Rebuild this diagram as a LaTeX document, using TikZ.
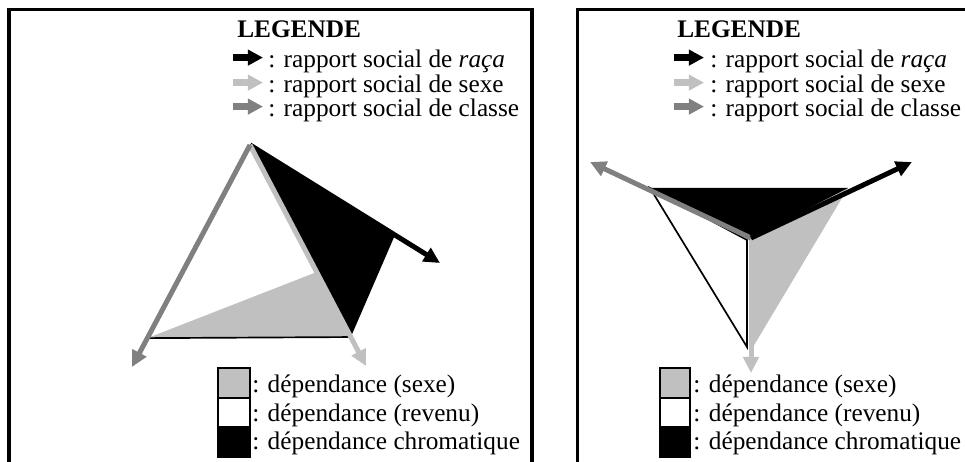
\documentclass[tikz,border=0pt]{standalone}
\usepackage{fontspec}
\setmainfont{Liberation Serif}
\usetikzlibrary{arrows.meta,calc}
\definecolor{sexgray}{HTML}{C0C0C0}
\definecolor{classgray}{HTML}{808080}

\begin{document}
\begin{tikzpicture}[
        every node/.style={font=\fontsize{18}{22}\selectfont, inner sep=0pt, anchor=base west},
        frame/.style={line width=2.5pt},
        rel/.style={line width=0.125cm, -{Triangle[length=0.4cm, width=0.38cm]}},
        keyarrow/.style={line width=0.17cm, -{Triangle[length=0.38cm, width=0.38cm]}},
        raca/.style={rel, black},
        sexe/.style={rel, sexgray},
        classe/.style={rel, classgray},
        keybox/.style={draw, line width=1.2pt},
        thinline/.style={line width=1.2pt}
    ]
    \useasboundingbox (0,0) rectangle (24.125,11.55);

    % =====================================================
    % Frames
    % =====================================================
    \draw[frame] (0.225,0) -- (0.225,11.3125) -- (13.3,11.3125) -- (13.3,0);
    \draw[frame] (14.4375,0) -- (14.4375,11.3125) -- (24.4,11.3125);

    % =====================================================
    % Left: legend
    % =====================================================
    \node[font=\bfseries\fontsize{18}{22}\selectfont] (L-title) at (5.925,10.6) {LEGENDE};

    \draw[keyarrow, black] (5.825,10.11) -- (6.575,10.11);
    \draw[keyarrow, sexgray] (5.825,9.485) -- (6.575,9.485);
    \draw[keyarrow, classgray] (5.825,8.885) -- (6.575,8.885);

    \node (L-raca) at (6.7,9.85) {: rapport social de \textit{raça}};
    \node (L-sexe) at (6.7,9.225) {: rapport social de sexe};
    \node (L-classe) at (6.7,8.625) {: rapport social de classe};

    % =====================================================
    % Left: dependency triangle
    % =====================================================
    \coordinate (L-A) at (6.25,7.925);
    \coordinate (L-C) at (3.3,2.375);
    \coordinate (L-S) at (9.15,2.4);
    \coordinate (L-R) at (11.0,4.975);

    \coordinate (L-c) at ($(L-A)!0.87!(L-C)$);
    \coordinate (L-m) at ($(L-A)!0.575!(L-S)$);
    \coordinate (L-s) at ($(L-A)!0.869!(L-S)$);
    \coordinate (L-r) at ($(L-A)!0.763!(L-R)$);

    % Areas
    \fill[white] (L-A) -- (L-c) -- (L-m) -- cycle;
    \fill[sexgray] (L-c) -- (L-m) -- (L-s) -- cycle;
    \fill[black] (L-A) -- (L-r) -- (L-s) -- cycle;
    \draw[thinline] (L-c) -- (L-s);

    % Social relations
    \draw[raca] (L-A) -- (L-R);
    \draw[sexe] (L-A) -- (L-S);
    \draw[classe] (L-A) -- (L-C);

    % Key of the areas
    \draw[keybox, fill=sexgray] (5.45,1.6083) rectangle (6.25,2.35);
    \draw[keybox, fill=white] (5.45,0.8667) rectangle (6.25,1.6083);
    \draw[keybox, fill=black] (5.45,0.125) rectangle (6.25,0.8667);

    \node (L-dsexe) at (6.3,1.725) {: dépendance (sexe)};
    \node (L-drevenu) at (6.3,1.0) {: dépendance (revenu)};
    \node (L-dchrom) at (6.3,0.3) {: dépendance chromatique};

    % =====================================================
    % Right: legend
    % =====================================================
    \node[font=\bfseries\fontsize{18}{22}\selectfont] (R-title) at (16.925,10.6) {LEGENDE};

    \draw[keyarrow, black] (16.85,10.11) -- (17.6,10.11);
    \draw[keyarrow, sexgray] (16.85,9.485) -- (17.6,9.485);
    \draw[keyarrow, classgray] (16.85,8.885) -- (17.6,8.885);

    \node (R-raca) at (17.75,9.85) {: rapport social de \textit{raça}};
    \node (R-sexe) at (17.75,9.225) {: rapport social de sexe};
    \node (R-classe) at (17.75,8.625) {: rapport social de classe};

    % =====================================================
    % Right: dependency triangle
    % =====================================================
    \coordinate (R-O) at (18.775,5.6);
    \coordinate (R-C) at (14.75,7.5);
    \coordinate (R-R) at (22.8,7.5);
    \coordinate (R-S) at (18.775,2.225);

    \coordinate (R-c) at (16.25,6.85);
    \coordinate (R-r) at (21.2,6.85);
    \coordinate (R-s) at (18.825,2.875);
    \coordinate (R-w) at (18.675,2.875);
    \coordinate (R-v) at (18.675,5.55);

    % Areas
    \draw[thinline, fill=white] (R-c) -- (R-w) -- (R-v) -- cycle;
    \fill[sexgray] (R-r) -- (R-s) -- (R-O) -- cycle;
    \fill[black] (R-c) -- (R-r) -- (R-O) -- cycle;

    % Social relations
    \draw[sexe] (R-O) -- (R-S);
    \draw[classe] (R-O) -- (R-C);
    \draw[raca] (R-O) -- (R-R);

    % Key of the areas
    \draw[keybox, fill=sexgray] (16.5,1.6083) rectangle (17.25,2.35);
    \draw[keybox, fill=white] (16.5,0.8667) rectangle (17.25,1.6083);
    \draw[keybox, fill=black] (16.5,0.125) rectangle (17.25,0.8667);

    \node (R-dsexe) at (17.33,1.725) {: dépendance (sexe)};
    \node (R-drevenu) at (17.33,1.0) {: dépendance (revenu)};
    \node (R-dchrom) at (17.33,0.3) {: dépendance chromatique};

\end{tikzpicture}
\end{document}
